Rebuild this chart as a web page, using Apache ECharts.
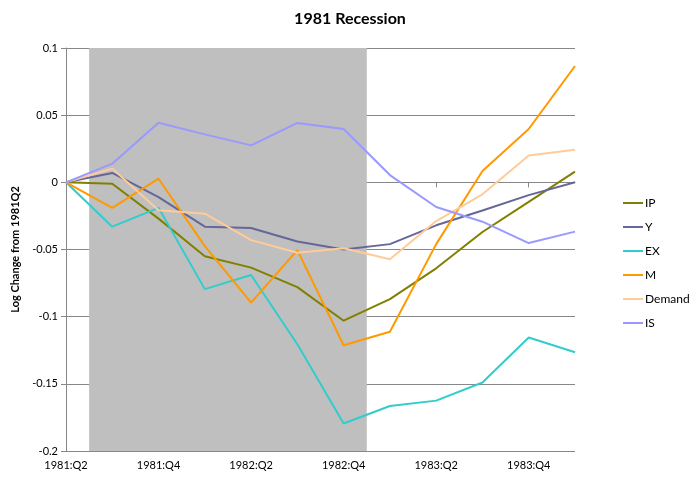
<!DOCTYPE html>
<html>
<head>
<meta charset="utf-8">
<script src="https://cdn.jsdelivr.net/npm/echarts@6/dist/echarts.min.js"></script>
<style>
  html, body { margin: 0; padding: 0; background: #fff; }
  #chart { width: 700px; height: 481px; }
</style>
</head>
<body>
<div id="chart"></div>
<script>
// Quarters since the 1981:Q2 peak
const quarters = ['1981:Q2', '1981:Q3', '1981:Q4', '1982:Q1', '1982:Q2', '1982:Q3',
                  '1982:Q4', '1983:Q1', '1983:Q2', '1983:Q3', '1983:Q4', '1984:Q1'];

// Log change from 1981Q2 for each component
const IP     = [0, -0.001, -0.027, -0.055, -0.0635, -0.078, -0.103, -0.087, -0.064, -0.037, -0.0145, 0.008];
const Y      = [0, 0.007, -0.011, -0.033, -0.034, -0.044, -0.050, -0.046, -0.032, -0.021, -0.0095, 0.0];
const EX     = [0, -0.033, -0.019, -0.0795, -0.069, -0.1205, -0.1795, -0.1665, -0.1625, -0.149, -0.1155, -0.1265];
const M      = [0, -0.019, 0.0027, -0.0475, -0.0895, -0.0505, -0.1213, -0.1112, -0.046, 0.0084, 0.0397, 0.0866];
const Demand = [0, 0.0102, -0.0208, -0.0233, -0.043, -0.0524, -0.0491, -0.0573, -0.0288, -0.0089, 0.0199, 0.0243];
const IS     = [0, 0.0139, 0.0444, 0.0357, 0.0275, 0.0442, 0.0397, 0.0054, -0.0184, -0.0293, -0.0452, -0.0367];

// NBER recession: first and last quarter (shaded half a quarter either side)
const recessionStart = '1981:Q3';
const recessionEnd = '1982:Q4';

const seriesNames = ['IP', 'Y', 'EX', 'M', 'Demand', 'IS'];
const seriesData = [IP, Y, EX, M, Demand, IS];
const seriesColors = ['#808000', '#666699', '#33cccc', '#ff9900', '#ffcc99', '#9999ff'];

const FONT = 'Lato, "Open Sans", sans-serif';
const chart = echarts.init(document.getElementById('chart'), null, { renderer: 'canvas' });

const lines = seriesNames.map((name, i) => ({
  name,
  type: 'line',
  data: seriesData[i],
  symbol: 'none',
  z: 3,
  lineStyle: { color: seriesColors[i], width: 2 },
  itemStyle: { color: seriesColors[i] },
  emphasis: { disabled: true }
}));

// Grey band behind the lines marking the recession quarters
const recessionBand = {
  type: 'custom',
  z: 1,
  silent: true,
  data: [[quarters.indexOf(recessionStart), quarters.indexOf(recessionEnd)]],
  renderItem: (params, api) => {
    const half = api.size([1, 0])[0] / 2;
    const top = api.coord([api.value(0), 0.1]);
    const bottom = api.coord([api.value(1), -0.2]);
    return {
      type: 'rect',
      shape: {
        x: top[0] - half,
        y: top[1],
        width: bottom[0] - top[0] + 2 * half,
        height: bottom[1] - top[1]
      },
      style: { fill: '#bfbfbf' }
    };
  }
};

chart.setOption({
  animation: false,
  backgroundColor: '#fff',
  title: {
    text: '1981 Recession',
    left: 'center',
    top: 6,
    textStyle: { fontFamily: FONT, fontSize: 16, fontWeight: 'bold', color: '#000' }
  },
  legend: {
    orient: 'vertical',
    left: 618,
    top: 192,
    itemWidth: 20,
    itemHeight: 14,
    itemGap: 12,
    icon: 'path://M0,6 L20,6 L20,8 L0,8 Z',
    data: seriesNames,
    textStyle: { fontFamily: FONT, fontSize: 12, color: '#000', padding: [0, 0, 0, -3] }
  },
  grid: { left: 66, right: 125, top: 48, bottom: 30, containLabel: false },
  xAxis: {
    type: 'category',
    data: quarters,
    boundaryGap: false,
    axisLine: { lineStyle: { color: '#888', width: 1 } },
    axisTick: { show: true, interval: 1, length: 5, lineStyle: { color: '#888' } },
    axisLabel: { interval: 1, color: '#000', fontFamily: FONT, fontSize: 11, margin: 9 },
    splitLine: { show: false }
  },
  yAxis: {
    type: 'value',
    min: -0.2,
    max: 0.1,
    interval: 0.05,
    name: 'Log Change from 1981Q2',
    nameLocation: 'middle',
    nameGap: 43,
    nameTextStyle: { fontFamily: FONT, fontSize: 11, fontWeight: 'bold', color: '#000' },
    axisLine: { show: true, lineStyle: { color: '#888', width: 1 } },
    axisTick: { show: true, length: 5, lineStyle: { color: '#888' } },
    axisLabel: { color: '#000', fontFamily: FONT, fontSize: 11, margin: 8 },
    splitLine: { show: true, lineStyle: { color: '#888', width: 1 } }
  },
  series: [recessionBand, ...lines]
});
</script>
</body>
</html>
